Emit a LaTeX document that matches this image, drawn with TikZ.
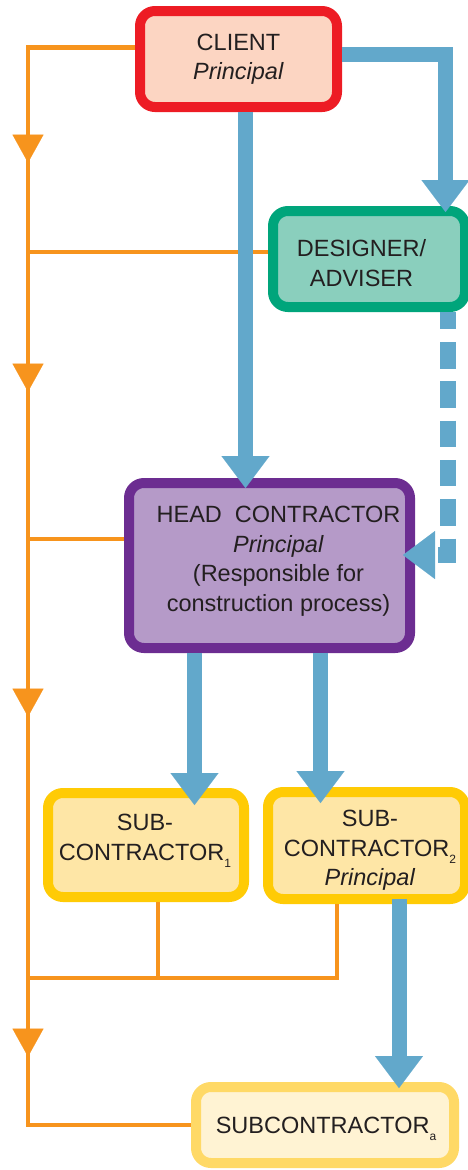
\documentclass[tikz,border=0pt]{standalone}
\usepackage{fontspec}
\setmainfont{Liberation Sans}
\usetikzlibrary{arrows.meta, decorations.markings}
\definecolor{clientred}{HTML}{ED1C24}
\definecolor{clientfill}{HTML}{FCD5C2}
\definecolor{designgreen}{HTML}{00A57B}
\definecolor{designfill}{HTML}{8ACFBD}
\definecolor{headpurple}{HTML}{6C2D91}
\definecolor{headfill}{HTML}{B59AC8}
\definecolor{subyellow}{HTML}{FFCB05}
\definecolor{subfill}{HTML}{FEE6A6}
\definecolor{subaborder}{HTML}{FFD966}
\definecolor{subafill}{HTML}{FFF3D3}
\definecolor{floworange}{HTML}{F7941D}
\definecolor{flowblue}{HTML}{62A8CB}
\definecolor{ink}{HTML}{231F20}
\newcommand{\lowidx}[1]{\raisebox{-7pt}{\fontsize{12}{12}\selectfont #1}}
\tikzset{
    box/.style={rectangle, rounded corners=15pt, line width=10pt, inner sep=0pt},
    clientbox/.style={box, draw=clientred, fill=clientfill, minimum width=197pt, minimum height=96pt},
    designbox/.style={box, draw=designgreen, fill=designfill, minimum width=192pt, minimum height=96pt},
    headbox/.style={box, draw=headpurple, fill=headfill, minimum width=281pt, minimum height=165pt},
    subbox/.style={box, draw=subyellow, fill=subfill, minimum width=196pt, minimum height=104pt},
    subabox/.style={box, draw=subaborder, fill=subafill, minimum width=258pt, minimum height=76pt},
    txt/.style={align=center, inner sep=0pt, text=ink, font=\fontsize{23.5}{29.5}\selectfont},
    bluearrow/.style={draw=flowblue, line width=15pt, -{Triangle[width=48pt, length=32pt, line width=0.1pt]}},
    bluedashed/.style={bluearrow, line width=16pt, dash pattern=on 26.5pt off 12.8pt, dash phase=9.3pt},
    orangeline/.style={draw=floworange, line width=4.5pt},
}

\begin{document}
\begin{tikzpicture}[x=1pt, y=1pt]
    \useasboundingbox (0,0) rectangle (468,-1170);
    % boxes
    \node[clientbox] (client) at (238.5,-59) {};
    \node[designbox] (designer) at (369,-259) {};
    \node[headbox] (head) at (269.5,-565.5) {};
    \node[subbox] (sub1) at (146,-845) {};
    \node[subbox, minimum width=197pt, minimum height=107pt] (sub2) at (366.5,-845.5) {};
    \node[subabox] (suba) at (325,-1125) {};
    % texts
    \node[txt] (clienttxt) at (client.center) {CLIENT\\\textit{Principal}};
    \node[txt] (designertxt) at ([xshift=-7.5pt, yshift=-4pt]designer.center) {DESIGNER/\\ADVISER};
    \node[txt] (headtxt) at ([xshift=9pt, yshift=4.5pt]head.center) {HEAD\ \ CONTRACTOR\\\textit{Principal}\\(Responsible for\\construction process)};
    \node[txt] (sub1txt) at ([xshift=-1pt, yshift=4pt]sub1.center) {SUB-\\CONTRACTOR\lowidx{1}};
    \node[txt] (sub2txt) at ([xshift=3.5pt, yshift=-5pt]sub2.center) {SUB-\\CONTRACTOR\lowidx{2}\\\textit{Principal}};
    \node[txt] (subatxt) at ([xshift=1pt, yshift=-4pt]suba.center) {SUBCONTRACTOR\lowidx{a}};
    % orange lines
    \coordinate (spine) at (28,0);
    \coordinate (join) at (28,-978);
    \draw[orangeline, postaction={decorate}, decoration={markings,
        mark=at position 222pt with {\arrow{Triangle[width=31pt, length=28pt, line width=0.1pt]}},
        mark=at position 451pt with {\arrow{Triangle[width=31pt, length=28pt, line width=0.1pt]}},
        mark=at position 776pt with {\arrow{Triangle[width=31pt, length=28pt, line width=0.1pt]}},
        mark=at position 1116pt with {\arrow{Triangle[width=31pt, length=28pt, line width=0.1pt]}}}]
        ([yshift=11.3pt]client.west) -| (spine |- suba.west) -- (suba.west);
    \draw[orangeline] ([yshift=7pt]designer.west) -- ([yshift=7pt]designer.west -| spine);
    \draw[orangeline] ([yshift=26.5pt]head.west) -- ([yshift=26.5pt]head.west -| spine);
    \draw[orangeline] ([xshift=12pt]sub1.south) -- ([xshift=12pt]sub1.south |- join);
    \draw[orangeline] ([xshift=-29.5pt]sub2.south) |- (join);
    % blue arrows
    \draw[bluearrow, shorten >=-6pt] ([yshift=4.5pt]client.east) -| ([xshift=76.5pt]designer.north);
    \draw[bluearrow, shorten >=-10pt] ([xshift=7pt]client.south) -- ([xshift=7pt]client.south |- head.north);
    \draw[bluedashed, shorten >=-12pt] ([xshift=79pt]designer.south) |- ([yshift=10.5pt]head.east);
    \draw[bluearrow, shorten >=-17pt] ([xshift=-75pt]head.south) -- ([xshift=-75pt]head.south |- sub1.north);
    \draw[bluearrow, shorten >=-16pt] ([xshift=51pt]head.south) -- ([xshift=51pt]head.south |- sub2.north);
    \draw[bluearrow, shorten <=-5pt, shorten >=-6pt] ([xshift=32.5pt]sub2.south) -- ([xshift=32.5pt]sub2.south |- suba.north);
\end{tikzpicture}
\end{document}
